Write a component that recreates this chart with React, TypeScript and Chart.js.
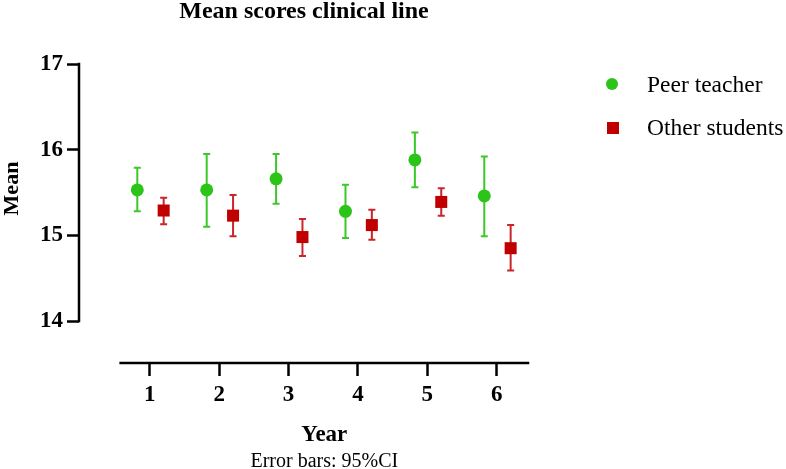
import React, { useEffect, useRef } from "react";
import { Chart, registerables } from "chart.js";

Chart.register(...registerables);

const years = [1, 2, 3, 4, 5, 6];
const yTicks = [14, 15, 16, 17];

const peerMean = [15.53, 15.53, 15.66, 15.28, 15.88, 15.46];
const peerLower = [15.28, 15.10, 15.37, 14.97, 15.56, 14.99];
const peerUpper = [15.79, 15.95, 15.95, 15.59, 16.20, 15.92];

const otherMean = [15.29, 15.23, 14.98, 15.12, 15.39, 14.85];
const otherLower = [15.13, 14.99, 14.76, 14.95, 15.23, 14.59];
const otherUpper = [15.44, 15.47, 15.19, 15.30, 15.55, 15.12];

const seriesNames = ["Peer teacher", "Other students"];
const titleText = "Mean scores clinical line";
const yTitle = "Mean";
const xTitle = "Year";
const footnote = "Error bars: 95%CI";

const SERIF = "'Liberation Serif', 'Times New Roman', serif";
const GREEN = "#2cc418";
const GREEN_BAR = "#3cc82a";
const RED = "#c00000";
const RED_BAR = "#c8262c";
const PEER_OFFSET = -0.18;
const OTHER_OFFSET = 0.2;
const X_LINE_START = 0.58;

export default function App() {
  const canvasRef = useRef<HTMLCanvasElement | null>(null);

  useEffect(() => {
    const canvas = canvasRef.current;
    if (!canvas) return;

    const errorBars = {
      id: "errorBars",
      beforeDatasetsDraw(chart: any) {
        const ctx = chart.ctx;
        const xs = chart.scales.x;
        const ys = chart.scales.y;
        const sets = [
          { lo: peerLower, hi: peerUpper, off: PEER_OFFSET, color: GREEN_BAR },
          { lo: otherLower, hi: otherUpper, off: OTHER_OFFSET, color: RED_BAR },
        ];
        ctx.save();
        ctx.lineWidth = 2;
        sets.forEach((s) => {
          ctx.strokeStyle = s.color;
          years.forEach((yr, i) => {
            const px = xs.getPixelForValue(yr + s.off);
            const pLo = ys.getPixelForValue(s.lo[i]);
            const pHi = ys.getPixelForValue(s.hi[i]);
            ctx.beginPath();
            ctx.moveTo(px, pLo);
            ctx.lineTo(px, pHi);
            ctx.moveTo(px - 3.5, pLo);
            ctx.lineTo(px + 3.5, pLo);
            ctx.moveTo(px - 3.5, pHi);
            ctx.lineTo(px + 3.5, pHi);
            ctx.stroke();
          });
        });
        ctx.restore();
      },
    };

    const decorations = {
      id: "decorations",
      afterDraw(chart: any) {
        const ctx = chart.ctx;
        const xs = chart.scales.x;
        const ys = chart.scales.y;
        const area = chart.chartArea;
        ctx.save();
        // axis lines
        ctx.strokeStyle = "#000";
        ctx.lineWidth = 2.5;
        ctx.lineCap = "square";
        ctx.beginPath();
        ctx.moveTo(area.left, ys.getPixelForValue(yTicks[yTicks.length - 1]));
        ctx.lineTo(area.left, ys.getPixelForValue(yTicks[0]));
        ctx.stroke();
        ctx.beginPath();
        ctx.moveTo(xs.getPixelForValue(X_LINE_START), area.bottom);
        ctx.lineTo(area.right, area.bottom);
        ctx.stroke();

        ctx.fillStyle = "#000";
        ctx.textAlign = "center";
        ctx.textBaseline = "alphabetic";
        // title
        ctx.font = `bold 24px ${SERIF}`;
        ctx.fillText(titleText, 304, 18);
        // x title
        const xMid = (xs.getPixelForValue(X_LINE_START) + area.right) / 2;
        ctx.font = `bold 23px ${SERIF}`;
        ctx.fillText(xTitle, xMid, 441);
        // footnote
        ctx.font = `20px ${SERIF}`;
        ctx.fillText(footnote, xMid, 467);
        // y title
        const yMid = (ys.getPixelForValue(yTicks[0]) + ys.getPixelForValue(yTicks[yTicks.length - 1])) / 2;
        ctx.save();
        ctx.translate(18, yMid - 4);
        ctx.rotate(-Math.PI / 2);
        ctx.font = `bold 22px ${SERIF}`;
        ctx.fillText(yTitle, 0, 0);
        ctx.restore();

        // legend
        ctx.textAlign = "left";
        ctx.font = `23.5px ${SERIF}`;
        ctx.fillStyle = GREEN;
        ctx.beginPath();
        ctx.arc(612, 84, 6, 0, Math.PI * 2);
        ctx.fill();
        ctx.fillStyle = RED;
        ctx.fillRect(607, 122, 12, 12);
        ctx.fillStyle = "#000";
        ctx.fillText(seriesNames[0], 647, 92);
        ctx.fillText(seriesNames[1], 647, 135);
        ctx.restore();
      },
    };

    const chart = new Chart(canvas, {
      type: "scatter",
      data: {
        datasets: [
          {
            label: seriesNames[0],
            data: years.map((yr, i) => ({ x: yr + PEER_OFFSET, y: peerMean[i] })),
            backgroundColor: GREEN,
            borderColor: GREEN,
            borderWidth: 0,
            pointStyle: "circle",
            pointRadius: 6.5,
            pointHoverRadius: 6.5,
          },
          {
            label: seriesNames[1],
            data: years.map((yr, i) => ({ x: yr + OTHER_OFFSET, y: otherMean[i] })),
            backgroundColor: RED,
            borderColor: RED,
            borderWidth: 0,
            pointStyle: "rect",
            pointRadius: 8.5,
            pointHoverRadius: 8.5,
          },
        ],
      },
      options: {
        animation: false,
        responsive: true,
        maintainAspectRatio: false,
        events: [],
        clip: false as any,
        layout: { padding: { top: 64, right: 258, bottom: 0, left: 0 } },
        plugins: {
          legend: { display: false },
          title: { display: false },
          tooltip: { enabled: false },
        },
        scales: {
          x: {
            type: "linear",
            min: -0.02,
            max: 6.45,
            afterBuildTicks: (scale: any) => {
              scale.ticks = years.map((v) => ({ value: v }));
            },
            afterFit: (scale: any) => {
              scale.height = 106;
            },
            border: { display: false },
            grid: {
              drawOnChartArea: false,
              drawTicks: true,
              tickLength: 13,
              tickWidth: 2.5,
              tickColor: "#000",
            },
            ticks: {
              color: "#000",
              font: { family: SERIF, size: 23, weight: "bold" },
              padding: 5,
              maxRotation: 0,
              autoSkip: false,
              callback: (v: any) => String(v),
            },
          },
          y: {
            type: "linear",
            min: 13.51,
            max: 17,
            afterBuildTicks: (scale: any) => {
              scale.ticks = yTicks.map((v) => ({ value: v }));
            },
            afterFit: (scale: any) => {
              scale.width = 79;
            },
            border: { display: false },
            grid: {
              drawOnChartArea: false,
              drawTicks: true,
              tickLength: 12,
              tickWidth: 2.5,
              tickColor: "#000",
            },
            ticks: {
              color: "#000",
              font: { family: SERIF, size: 23, weight: "bold" },
              padding: 4,
              autoSkip: false,
              callback: (v: any) => String(v),
            },
          },
        },
      },
      plugins: [errorBars, decorations],
    });

    return () => chart.destroy();
  }, []);

  return (
    <div style={{ position: "absolute", left: 0, top: 0, width: 786, height: 469, background: "#fff" }}>
      <canvas ref={canvasRef} />
    </div>
  );
}
